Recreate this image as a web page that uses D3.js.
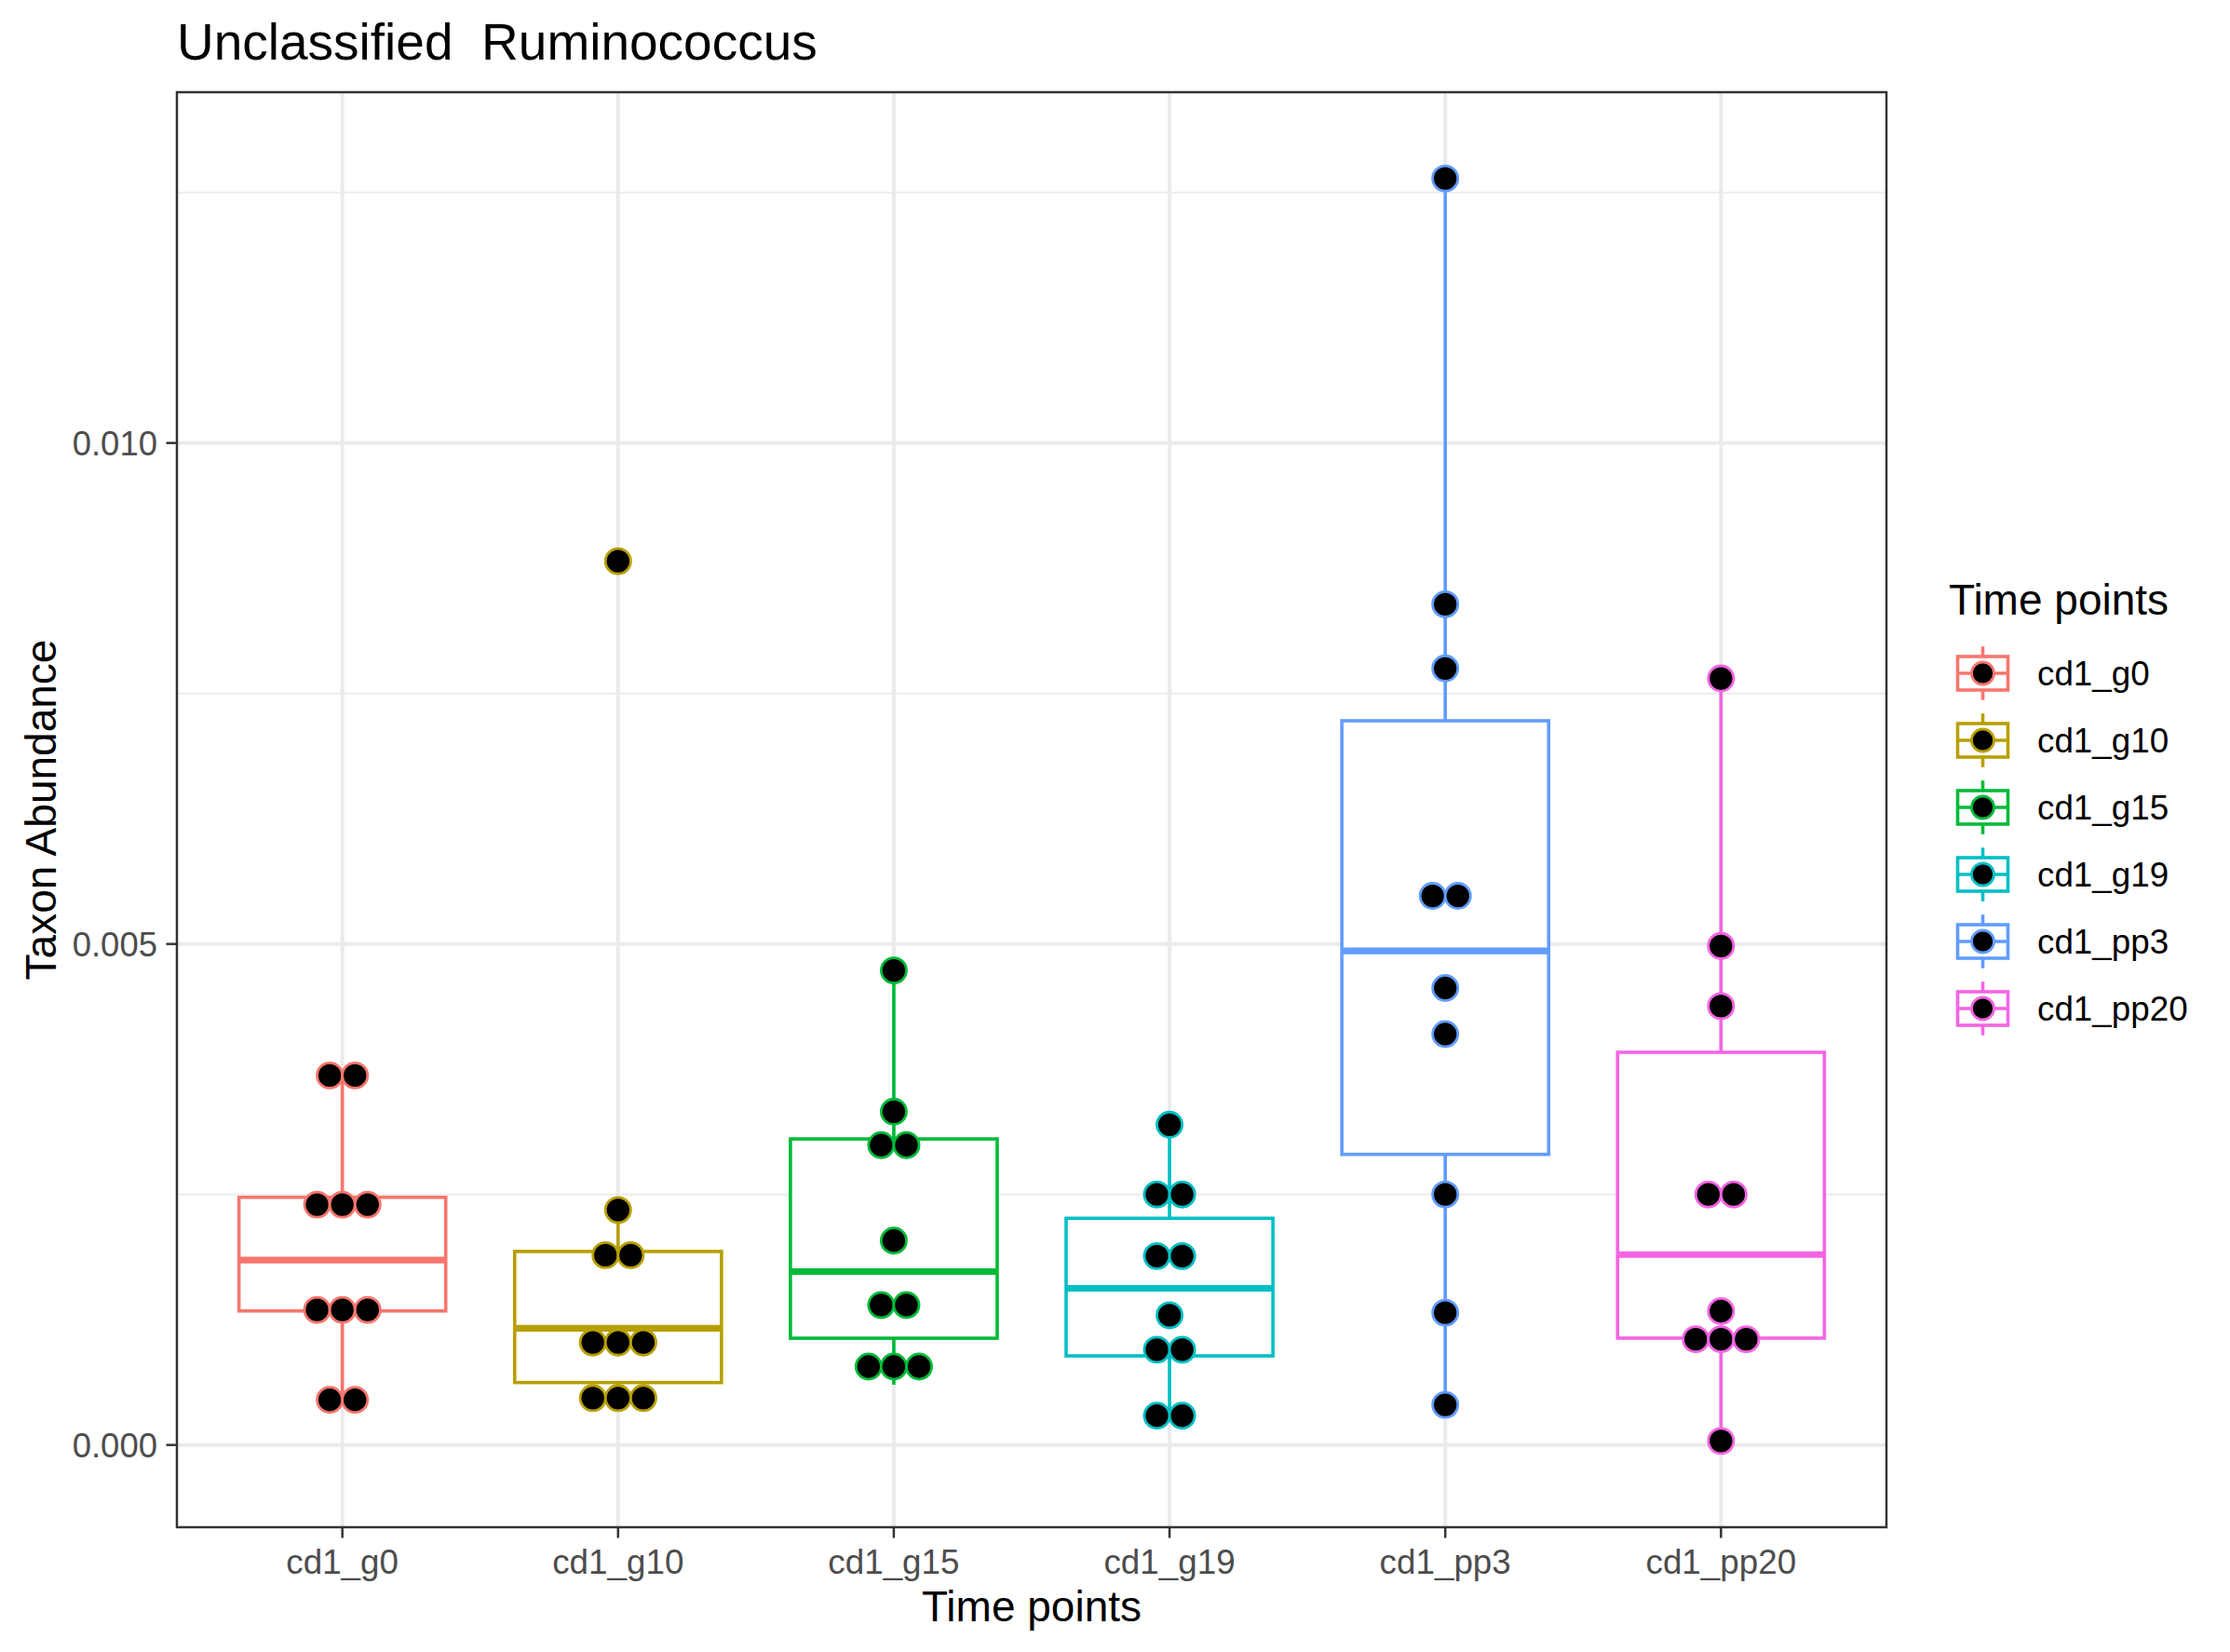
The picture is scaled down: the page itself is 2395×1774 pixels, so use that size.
<!DOCTYPE html>
<html>
<head>
<meta charset="utf-8">
<script src="https://cdn.jsdelivr.net/npm/d3@7"></script>
<style>
  html, body { margin: 0; padding: 0; background: #ffffff; }
  svg { display: block; }
  text { font-family: "Liberation Sans", Arial, Helvetica, sans-serif; }
</style>
</head>
<body>
<svg id="chart" width="2395" height="1774"></svg>
<script>
// ---------------- data ----------------
const categories = ["cd1_g0", "cd1_g10", "cd1_g15", "cd1_g19", "cd1_pp3", "cd1_pp20"];
const colors = ["#F8766D", "#B79F00", "#00BA38", "#00BFC4", "#619CFF", "#F564E3"];

const cd1_g0   = [0.00044, 0.00046, 0.00133, 0.00136, 0.001365, 0.002325, 0.00247, 0.002472, 0.00368, 0.003695];
const cd1_g10  = [0.000397, 0.00047, 0.000539, 0.000874, 0.001158, 0.00117, 0.00182, 0.001968, 0.002345, 0.00882];
const cd1_g15  = [0.000601, 0.0008, 0.000963, 0.001371, 0.001421, 0.002039, 0.002868, 0.003116, 0.003326, 0.004736];
const cd1_g19  = [0.00028, 0.000304, 0.000827, 0.001075, 0.001294, 0.001832, 0.001938, 0.00237, 0.00263, 0.003196];
const cd1_pp3  = [0.0004, 0.00132, 0.0025, 0.0041, 0.00456, 0.0053, 0.00566, 0.00775, 0.00839, 0.01264];
const cd1_pp20 = [0.00004, 0.0009, 0.001018, 0.00121, 0.001335, 0.002465, 0.002535, 0.00438, 0.00498, 0.00765];

const seriesValues = [cd1_g0, cd1_g10, cd1_g15, cd1_g19, cd1_pp3, cd1_pp20];
const yMajorTicks = [0, 0.005, 0.010];
const yTickLabels = ["0.000", "0.005", "0.010"];
const yMinorTicks = [0.0025, 0.0075, 0.0125];

const titleText = "Unclassified\u00a0 Ruminococcus";
const xTitle = "Time points";
const yTitle = "Taxon Abundance";
const legendTitle = "Time points";

// ---------------- layout ----------------
const W = 2395, H = 1774;
const panel = { left: 190, right: 2026, top: 99, bottom: 1640 };
const svg = d3.select("#chart");
svg.append("rect").attr("width", W).attr("height", H).attr("fill", "#ffffff");

// dotplot binning (ggplot2 "dotdensity")
const allVals = seriesValues.flat();
const binwidth = (d3.max(allVals) - d3.min(allVals)) / 30;
const dotsize = 0.6;

function dotdensity(vals) {
  const xs = vals.slice().sort((a, b) => a - b);
  const bins = [];
  let binend = -Infinity, cur = null;
  xs.forEach(v => {
    if (v >= binend) { binend = v + binwidth; cur = []; bins.push(cur); }
    cur.push(v);
  });
  return bins.map(b => ({ center: (d3.min(b) + d3.max(b)) / 2, count: b.length }));
}
const binsPerGroup = seriesValues.map(dotdensity);

// y domain: bin centers +- binwidth/2, expanded 5%
const centers = binsPerGroup.flat().map(b => b.center);
const lo = d3.min(centers) - binwidth / 2, hi = d3.max(centers) + binwidth / 2;
const pad = (hi - lo) * 0.05;

// discrete x with 0.6 expansion each side
const x = d3.scalePoint().domain(categories)
  .range([panel.left, panel.right]).padding(0.6);
const xc = c => x(c);
const xStep = x.step();

const y = d3.scaleLinear().domain([lo - pad, hi + pad]).range([panel.bottom, panel.top]);

// ---------------- grid ----------------
const grid = svg.append("g");
grid.selectAll("line.minor").data(yMinorTicks).join("line")
  .attr("x1", panel.left).attr("x2", panel.right)
  .attr("y1", d => y(d)).attr("y2", d => y(d))
  .attr("stroke", "#EBEBEB").attr("stroke-width", 2);
grid.selectAll("line.majory").data(yMajorTicks).join("line")
  .attr("x1", panel.left).attr("x2", panel.right)
  .attr("y1", d => y(d)).attr("y2", d => y(d))
  .attr("stroke", "#EBEBEB").attr("stroke-width", 4);
grid.selectAll("line.majorx").data(categories).join("line")
  .attr("x1", d => xc(d)).attr("x2", d => xc(d))
  .attr("y1", panel.top).attr("y2", panel.bottom)
  .attr("stroke", "#EBEBEB").attr("stroke-width", 4);

// ---------------- boxplots ----------------
const boxW = xStep * 0.75;
const lw = 3.6;
const boxes = svg.append("g");
seriesValues.forEach((vals, i) => {
  const s = vals.slice().sort((a, b) => a - b);
  const q1 = d3.quantile(s, 0.25), med = d3.quantile(s, 0.5), q3 = d3.quantile(s, 0.75);
  const iqr = q3 - q1;
  const inside = s.filter(v => v >= q1 - 1.5 * iqr && v <= q3 + 1.5 * iqr);
  const wLo = d3.min(inside), wHi = d3.max(inside);
  const cx = xc(categories[i]);
  const col = colors[i];
  const g = boxes.append("g").attr("stroke", col).attr("fill", "none");
  g.append("line").attr("x1", cx).attr("x2", cx).attr("y1", y(q3)).attr("y2", y(wHi)).attr("stroke-width", lw);
  g.append("line").attr("x1", cx).attr("x2", cx).attr("y1", y(q1)).attr("y2", y(wLo)).attr("stroke-width", lw);
  g.append("rect").attr("x", cx - boxW / 2).attr("width", boxW)
    .attr("y", y(q3)).attr("height", y(q1) - y(q3))
    .attr("fill", "#ffffff").attr("stroke-width", lw).attr("stroke-linejoin", "miter");
  g.append("line").attr("x1", cx - boxW / 2).attr("x2", cx + boxW / 2)
    .attr("y1", y(med)).attr("y2", y(med)).attr("stroke-width", lw * 2);
});

// ---------------- dots ----------------
const dotDia = Math.abs(y(0) - y(binwidth * dotsize));
const dots = svg.append("g");
binsPerGroup.forEach((bins, i) => {
  const cx = xc(categories[i]);
  bins.forEach(b => {
    for (let k = 0; k < b.count; k++) {
      const off = (k - (b.count - 1) / 2) * dotDia;
      dots.append("circle")
        .attr("cx", cx + off).attr("cy", y(b.center))
        .attr("r", dotDia / 2)
        .attr("fill", "#000000").attr("stroke", colors[i]).attr("stroke-width", 2.8);
    }
  });
});

// ---------------- panel border & axes ----------------
svg.append("rect")
  .attr("x", panel.left).attr("y", panel.top)
  .attr("width", panel.right - panel.left).attr("height", panel.bottom - panel.top)
  .attr("fill", "none").attr("stroke", "#333333").attr("stroke-width", 2.5);

const axisG = svg.append("g");
axisG.selectAll("line.yt").data(yMajorTicks).join("line")
  .attr("x1", panel.left - 11.5).attr("x2", panel.left)
  .attr("y1", d => y(d)).attr("y2", d => y(d))
  .attr("stroke", "#333333").attr("stroke-width", 2.5);
axisG.selectAll("text.yt").data(yMajorTicks).join("text")
  .attr("x", panel.left - 21).attr("y", d => y(d) + 13)
  .attr("text-anchor", "end").attr("font-size", 36.5).attr("fill", "#4D4D4D")
  .text((d, i) => yTickLabels[i]);
axisG.selectAll("line.xt").data(categories).join("line")
  .attr("x1", d => xc(d)).attr("x2", d => xc(d))
  .attr("y1", panel.bottom).attr("y2", panel.bottom + 11.5)
  .attr("stroke", "#333333").attr("stroke-width", 2.5);
axisG.selectAll("text.xt").data(categories).join("text")
  .attr("x", d => xc(d)).attr("y", 1690)
  .attr("text-anchor", "middle").attr("font-size", 36.8).attr("fill", "#4D4D4D")
  .text(d => d);

// titles
svg.append("text").attr("x", panel.left).attr("y", 64)
  .attr("font-size", 55).attr("fill", "#000000").text(titleText);
svg.append("text").attr("x", (panel.left + panel.right) / 2).attr("y", 1741)
  .attr("text-anchor", "middle").attr("font-size", 46).attr("fill", "#000000").text(xTitle);
svg.append("text").attr("transform", `translate(60, ${(panel.top + panel.bottom) / 2}) rotate(-90)`)
  .attr("text-anchor", "middle").attr("font-size", 46).attr("fill", "#000000").text(yTitle);

// ---------------- legend ----------------
const leg = svg.append("g");
leg.append("text").attr("x", 2093).attr("y", 660)
  .attr("font-size", 46).attr("fill", "#000000").text(legendTitle);
const keySize = 72, keyX = 2093.5, keyY0 = 687;
categories.forEach((c, i) => {
  const kx = keyX, ky = keyY0 + i * keySize;
  const cxk = kx + keySize / 2, cyk = ky + keySize / 2;
  const g = leg.append("g").attr("stroke", colors[i]).attr("fill", "none").attr("stroke-width", lw);
  g.append("line").attr("x1", cxk).attr("x2", cxk).attr("y1", ky + keySize * 0.1).attr("y2", ky + keySize * 0.25);
  g.append("line").attr("x1", cxk).attr("x2", cxk).attr("y1", ky + keySize * 0.75).attr("y2", ky + keySize * 0.9);
  g.append("rect").attr("x", kx + keySize * 0.125).attr("y", ky + keySize * 0.25)
    .attr("width", keySize * 0.75).attr("height", keySize * 0.5).attr("fill", "#ffffff");
  g.append("line").attr("x1", kx + keySize * 0.125).attr("x2", kx + keySize * 0.875).attr("y1", cyk).attr("y2", cyk);
  leg.append("circle").attr("cx", cxk).attr("cy", cyk).attr("r", 12)
    .attr("fill", "#000000").attr("stroke", colors[i]).attr("stroke-width", 2.8);
  leg.append("text").attr("x", 2188).attr("y", cyk + 13)
    .attr("font-size", 36.8).attr("fill", "#000000").text(c);
});
</script>
</body>
</html>
